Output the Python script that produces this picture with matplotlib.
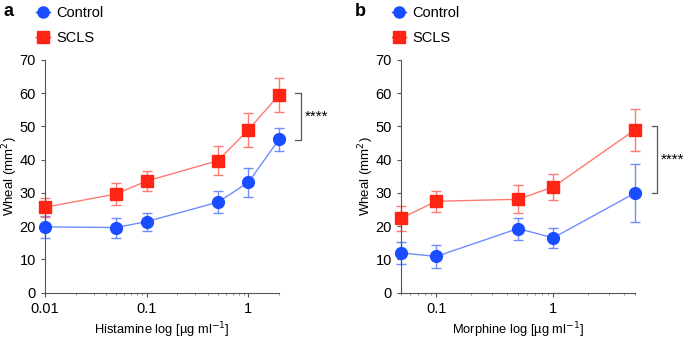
import numpy as np
import matplotlib.pyplot as plt

plt.rcParams['font.family'] = ['Liberation Sans', 'DejaVu Sans']

# panel a: histamine
hist_dose = [0.01, 0.05, 0.1, 0.5, 1, 2]
hist_ctrl = [19.8, 19.6, 21.4, 27.2, 33.2, 46.1]
hist_ctrl_err = [3.3, 3.0, 2.7, 3.3, 4.4, 3.4]
hist_scls = [25.7, 29.7, 33.6, 39.7, 49.0, 59.5]
hist_scls_err = [2.9, 3.2, 3.1, 4.3, 5.2, 5.2]

# panel b: morphine
morph_dose = [0.05, 0.1, 0.5, 1, 5]
morph_ctrl = [12.0, 10.9, 19.3, 16.5, 30.0]
morph_ctrl_err = [3.4, 3.6, 3.3, 3.1, 8.7]
morph_scls = [22.4, 27.5, 28.1, 31.8, 49.0]
morph_scls_err = [3.8, 3.2, 4.2, 3.8, 6.3]

blue = '#1a4dff'
red = '#ff2414'
blue_light = '#6f8dff'
red_light = '#ff7a70'

fig = plt.figure(figsize=(6.85, 3.38), dpi=100)
ax_a = fig.add_axes([0.0657, 0.134, 0.3416, 0.6885])
ax_b = fig.add_axes([0.5854, 0.134, 0.3416, 0.6885])


def draw_panel(ax, dose, ctrl, ctrl_err, scls, scls_err, xlim, xticks, xlabel):
    for y, err, c in [(ctrl, ctrl_err, blue_light), (scls, scls_err, red_light)]:
        eb = ax.errorbar(dose, y, yerr=err, fmt='none', ecolor=c,
                         elinewidth=1, capsize=3.5, capthick=1, zorder=2)
        for art in eb.lines[1] + eb.lines[2]:
            art.set_clip_on(False)
    ax.plot(dose, ctrl, color=blue_light, lw=1, zorder=3)
    ax.plot(dose, scls, color=red_light, lw=1, zorder=3)
    ax.plot(dose, ctrl, 'o', color=blue, ms=8.5, mec=blue, zorder=4,
            clip_on=False)
    ax.plot(dose, scls, 's', color=red, ms=8, mec=red, zorder=4,
            clip_on=False)
    # legend handles: marker with a short line through it
    ax.plot([], [], 'o-', color=blue, ms=8, lw=1, label='Control')
    ax.plot([], [], 's-', color=red, ms=8, lw=1, label='SCLS')
    ax.set_xscale('log')
    ax.set_xlim(*xlim)
    ax.set_ylim(0, 70)
    ax.set_yticks(range(0, 71, 10))
    ax.set_xticks(xticks)
    ax.set_xticklabels([str(t) for t in xticks])
    for s in ['top', 'right']:
        ax.spines[s].set_visible(False)
    for s in ['left', 'bottom']:
        ax.spines[s].set_color('#555555')
        ax.spines[s].set_linewidth(0.8)
    ax.tick_params(labelsize=10.5, width=0.8, length=3, color='#555555')
    ax.tick_params(which='minor', width=0.6, length=1.5, color='#777777')
    ax.set_xlabel(xlabel, fontsize=9.3, labelpad=3)
    ax.set_ylabel('Wheal (mm$^2$)', fontsize=9.5, labelpad=0)
    ax.legend(loc='lower left', bbox_to_anchor=(-0.065, 1.04), frameon=False,
              fontsize=10.5, handlelength=1.0, handletextpad=0.4,
              labelspacing=0.75, borderaxespad=0)


draw_panel(ax_a, hist_dose, hist_ctrl, hist_ctrl_err, hist_scls, hist_scls_err,
           (0.01, 2), [0.01, 0.1, 1], 'Histamine log [µg ml$^{-1}$]')
draw_panel(ax_b, morph_dose, morph_ctrl, morph_ctrl_err, morph_scls, morph_scls_err,
           (0.05, 5), [0.1, 1], 'Morphine log [µg ml$^{-1}$]')


def bracket(ax, x0, x1, ytop, ybot):
    tr = ax.get_yaxis_transform()
    ax.plot([x0, x1, x1, x0], [ytop, ytop, ybot, ybot], color='#555555',
            lw=0.9, transform=tr, clip_on=False)
    ax.text(x1 + 0.018, (ytop + ybot) / 2, '****', transform=tr, fontsize=11,
            va='center', ha='left')


bracket(ax_a, 1.068, 1.094, 60, 46)
bracket(ax_b, 1.071, 1.094, 50, 30)

fig.text(0.005, 0.965, 'a', fontsize=13, fontweight='bold', va='center')
fig.text(0.518, 0.965, 'b', fontsize=13, fontweight='bold', va='center')

fig.savefig('out.png', dpi=100)
